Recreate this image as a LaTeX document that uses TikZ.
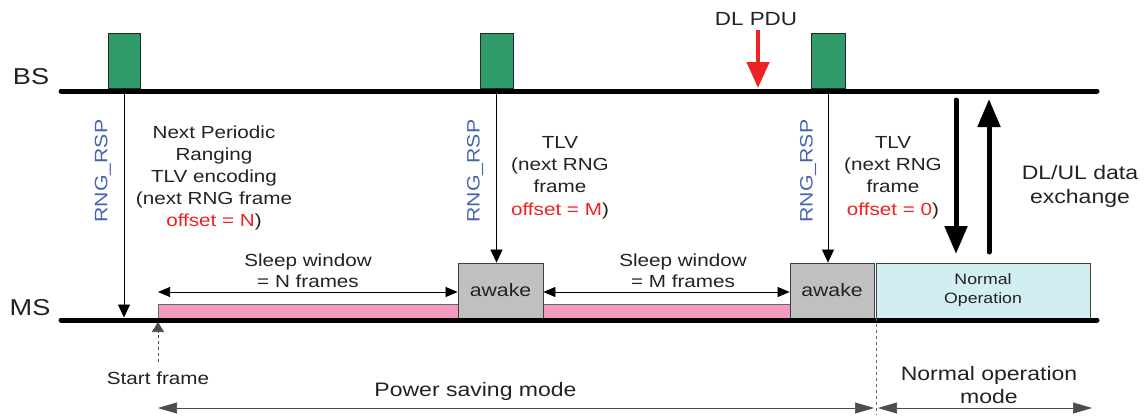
\documentclass[tikz,border=0pt]{standalone}
\usepackage{fontspec}
\setmainfont{Liberation Sans}[FakeStretch=1.18]
\usetikzlibrary{arrows.meta}
\definecolor{boxgreen}{HTML}{2E9B68}
\definecolor{sleeppink}{HTML}{F29AC0}
\definecolor{awakegray}{HTML}{C0C0C0}
\definecolor{normcyan}{HTML}{D3EEF3}
\definecolor{offred}{HTML}{EE2222}
\definecolor{rngblue}{HTML}{4563B5}
\definecolor{txtgray}{HTML}{222222}
\newcommand\myfs[2]{\fontsize{#1}{#2}\selectfont}
\begin{document}
\begin{tikzpicture}[x=1pt,y=-1pt,
  txt/.style={inner sep=0pt, text=txtgray, align=center},
  gbox/.style={draw=black!85, fill=boxgreen, line width=0.8pt, minimum height=55pt, inner sep=0pt},
  abox/.style={draw=black!75, fill=awakegray, line width=0.8pt, minimum height=55pt, minimum width=85pt, inner sep=0pt, text=txtgray, font=\myfs{18}{20}},
  pbar/.style={draw=black!60, fill=sleeppink, line width=0.6pt, minimum height=14pt, inner sep=0pt},
  timeline/.style={line width=5pt, line cap=round},
  thinarr/.style={line width=0.7pt, -{Triangle[length=13pt,width=12pt]}},
  dimarr/.style={line width=0.7pt, {Triangle[length=12pt,width=10pt]}-{Triangle[length=12pt,width=10pt]}},
  modearr/.style={line width=0.7pt, draw=black!70, {Triangle[length=19pt,width=11pt]}-{Triangle[length=19pt,width=11pt]}},
  bigarr/.style={line width=5pt, line cap=round, -{Triangle[length=28pt,width=22pt]}},
  rng/.style={inner sep=0pt, text=rngblue, rotate=90, font=\myfs{18}{20}}
]
\useasboundingbox (0,0) rectangle (1145,415);

% BS
\node[gbox, minimum width=32pt] (g1) at (124,60.5) {};
\node[gbox, minimum width=33pt] (g2) at (496.5,60.5) {};
\node[gbox, minimum width=34pt] (g3) at (828,60.5) {};
\coordinate (bsL) at (61,91);
\coordinate (bsR) at (1097,91);
\draw[timeline] (bsL) -- (bsR);
\node[txt, font=\myfs{23}{25}] (bs) at (31,77) {BS};

% DL PDU
\node[txt, font=\myfs{19}{21}] (dlpdu) at (756,19) {DL PDU};
\coordinate (pduA) at (758,30);
\coordinate (pduB) at (758,88);
\draw[line width=4.5pt, draw=offred, -{Triangle[length=26pt,width=22pt]}] (pduA) -- (pduB);

% MS bars and boxes
\node[pbar, minimum width=300pt] (p1) at (308,311) {};
\node[pbar, minimum width=247pt] (p2) at (666.5,311) {};
\node[abox] (aw1) at (500.5,290.5) {awake};
\node[abox, minimum width=84pt] (aw2) at (832,290.5) {awake};
\node[draw=black!75, fill=normcyan, line width=0.8pt, minimum height=55pt, minimum width=214pt, inner sep=0pt, text=txtgray, align=center, font=\myfs{15}{19}] (norm) at (983,290.5) {Normal\\Operation};
\coordinate (msL) at (61,320);
\coordinate (msR) at (1097,320);
\draw[timeline] (msL) -- (msR);
\node[txt, font=\myfs{23}{25}] (ms) at (30,308) {MS};

% RNG_RSP arrows
\draw[thinarr, shorten >=2.5pt] (g1.south) -- (g1.south |- msL);
\draw[thinarr] (g2.south) -- (g2.south |- aw1.north);
\draw[thinarr] (g3.south) -- (g3.south |- aw2.north);
\node[rng] (r1) at (103,171) {RNG\_RSP};
\node[rng] (r2) at (475,171) {RNG\_RSP};
\node[rng] (r3) at (808,171) {RNG\_RSP};

% TLV texts
\node[txt, font=\myfs{17.5}{22}] (t1) at (214,178) {Next Periodic\\Ranging\\TLV encoding\\(next RNG frame\\\textcolor{offred}{offset = N})};
\node[txt, font=\myfs{17.5}{22.3}] (t2) at (560,177.5) {TLV\\(next RNG\\frame\\\textcolor{offred}{offset = M})};
\node[txt, font=\myfs{17.5}{22.3}] (t3) at (893,177.5) {TLV\\(next RNG\\frame\\\textcolor{offred}{offset = 0})};

% sleep windows
\coordinate (sw1a) at (158,292);
\draw[dimarr] (sw1a) -- (sw1a -| aw1.west);
\draw[dimarr] (aw1.east |- sw1a) -- (aw2.west |- sw1a);
\node[txt, font=\myfs{17.5}{21}] (s1) at (308,271) {Sleep window\\= N frames};
\node[txt, font=\myfs{17.5}{21}] (s2) at (683,271) {Sleep window\\= M frames};

% DL/UL data exchange
\coordinate (dnA) at (956,100);
\coordinate (dnB) at (956,254);
\coordinate (upA) at (989,252);
\coordinate (upB) at (989,99);
\draw[bigarr] (dnA) -- (dnB);
\draw[bigarr] (upA) -- (upB);
\node[txt, font=\myfs{19.5}{24}] (dlul) at (1080,186) {DL/UL data\\exchange};

% start frame
\coordinate (sfB) at (158,362);
\coordinate (sfT) at (158,322);
\draw[line width=0.7pt, dashed, draw=black!70, -{Triangle[length=10pt,width=12pt]}] (sfB) -- (sfT);
\node[txt, font=\myfs{17.5}{20}] (sf) at (158,378) {Start frame};

% modes
\coordinate (sepT) at (876,318);
\coordinate (sepB) at (876,415);
\draw[line width=0.6pt, dashed, draw=black!60] (sepT) -- (sepB);
\coordinate (psL) at (158,408);
\coordinate (psR) at (874,408);
\coordinate (noL) at (878,408);
\coordinate (noR) at (1092,408);
\draw[modearr] (psL) -- (psR);
\draw[modearr] (noL) -- (noR);
\node[txt, font=\myfs{19.5}{22}] (psm) at (475.5,391) {Power saving mode};
\node[txt, font=\myfs{19.5}{23}] (nom) at (989,385) {Normal operation\\mode};
\end{tikzpicture}
\end{document}
